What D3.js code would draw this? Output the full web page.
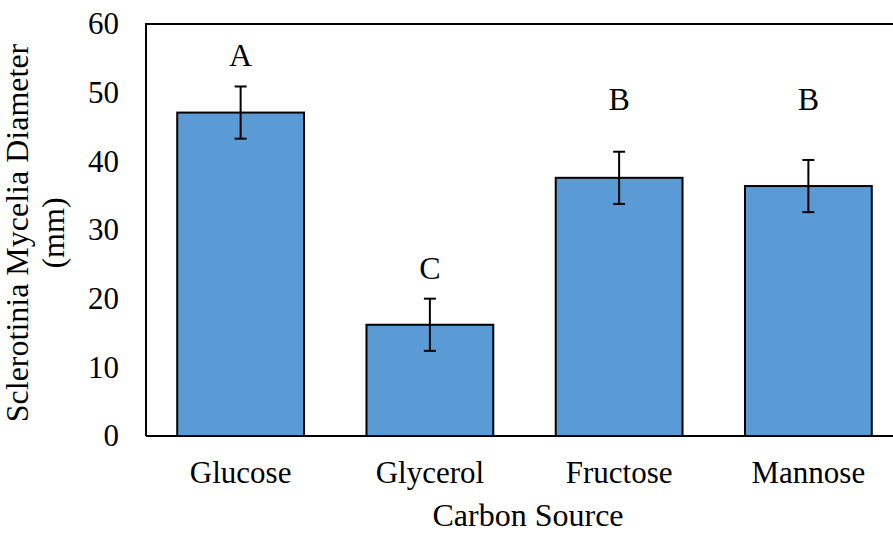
<!DOCTYPE html>
<html>
<head>
<meta charset="utf-8">
<script src="https://cdn.jsdelivr.net/npm/d3@7"></script>
<style>
  body { margin: 0; background: #fff; }
  svg { display: block; font-family: "Liberation Serif", "Times New Roman", serif; }
</style>
</head>
<body>
<svg id="chart" width="893" height="534"></svg>
<script>
// Mean mycelia diameter (mm) per carbon source, with error and significance letters
const categories = ["Glucose", "Glycerol", "Fructose", "Mannose"];
const means = [47.1, 16.2, 37.6, 36.4];
const errors = [3.8, 3.8, 3.8, 3.8];
const letters = ["A", "C", "B", "B"];
// height (mm on the value axis) at which each significance letter sits
const letterLevels = [53.9, 22.9, 47.5, 47.5];
const yTicks = [0, 10, 20, 30, 40, 50, 60];

const FONT = "Liberation Serif, Times New Roman, serif";
const svg = d3.select("#chart");
const margin = { left: 146, top: 24, right: -10, bottom: 98 };
const W = 893, H = 534;
const x0 = margin.left, x1 = W - margin.right;
const yTop = margin.top, yBot = H - margin.bottom;

const x = d3.scaleBand().domain(categories).range([x0, x1]).paddingInner(0.33).paddingOuter(0.165);
const y = d3.scaleLinear().domain([0, 60]).range([yBot, yTop]);

// Frame (top and left borders)
svg.append("path")
  .attr("d", `M${x1},${yTop}H${x0}V${yBot}`)
  .attr("fill", "none").attr("stroke", "#000").attr("stroke-width", 2);

// Bars
svg.append("g").selectAll("rect").data(categories).join("rect")
  .attr("x", d => x(d))
  .attr("width", x.bandwidth())
  .attr("y", (d, i) => y(means[i]))
  .attr("height", (d, i) => y(0) - y(means[i]))
  .attr("fill", "#5b9bd5")
  .attr("stroke", "#000").attr("stroke-width", 2);

// Error bars
const eb = svg.append("g").attr("stroke", "#000").attr("stroke-width", 2);
categories.forEach((c, i) => {
  const cx = x(c) + x.bandwidth() / 2;
  const hi = y(means[i] + errors[i]), lo = y(means[i] - errors[i]);
  eb.append("line").attr("x1", cx).attr("x2", cx).attr("y1", hi).attr("y2", lo);
  eb.append("line").attr("x1", cx - 6).attr("x2", cx + 6).attr("y1", hi).attr("y2", hi);
  eb.append("line").attr("x1", cx - 6).attr("x2", cx + 6).attr("y1", lo).attr("y2", lo);
});

// Significance letters
svg.append("g").selectAll("text").data(categories).join("text")
  .attr("x", d => x(d) + x.bandwidth() / 2)
  .attr("y", (d, i) => y(letterLevels[i]))
  .attr("text-anchor", "middle")
  .attr("font-size", 32)
  .text((d, i) => letters[i]);

// X axis
const xAxis = svg.append("g").attr("transform", `translate(0,${yBot})`)
  .call(d3.axisBottom(x).tickSize(0));
xAxis.select(".domain").attr("stroke", "#000").attr("stroke-width", 2)
  .attr("d", `M${x0},0H${x1}`);
xAxis.selectAll("text").attr("font-size", 31).attr("fill", "#000")
  .attr("font-family", FONT).attr("y", 47).attr("dy", 0);

// Y axis labels
const yAxis = svg.append("g").attr("transform", `translate(${x0},0)`)
  .call(d3.axisLeft(y).tickValues(yTicks).tickSize(0).tickPadding(27));
yAxis.select(".domain").remove();
yAxis.selectAll("text").attr("font-size", 31).attr("fill", "#000")
  .attr("font-family", FONT);

// Axis titles
svg.append("text")
  .attr("x", 528).attr("y", 526)
  .attr("text-anchor", "middle").attr("font-size", 32)
  .text("Carbon Source");

const yt = svg.append("text")
  .attr("transform", "translate(0,233) rotate(-90)")
  .attr("text-anchor", "middle").attr("font-size", 32);
yt.append("tspan").attr("x", 0).attr("y", 28).text("Sclerotinia Mycelia Diameter");
yt.append("tspan").attr("x", 0).attr("y", 64).text("(mm)");
</script>
</body>
</html>
